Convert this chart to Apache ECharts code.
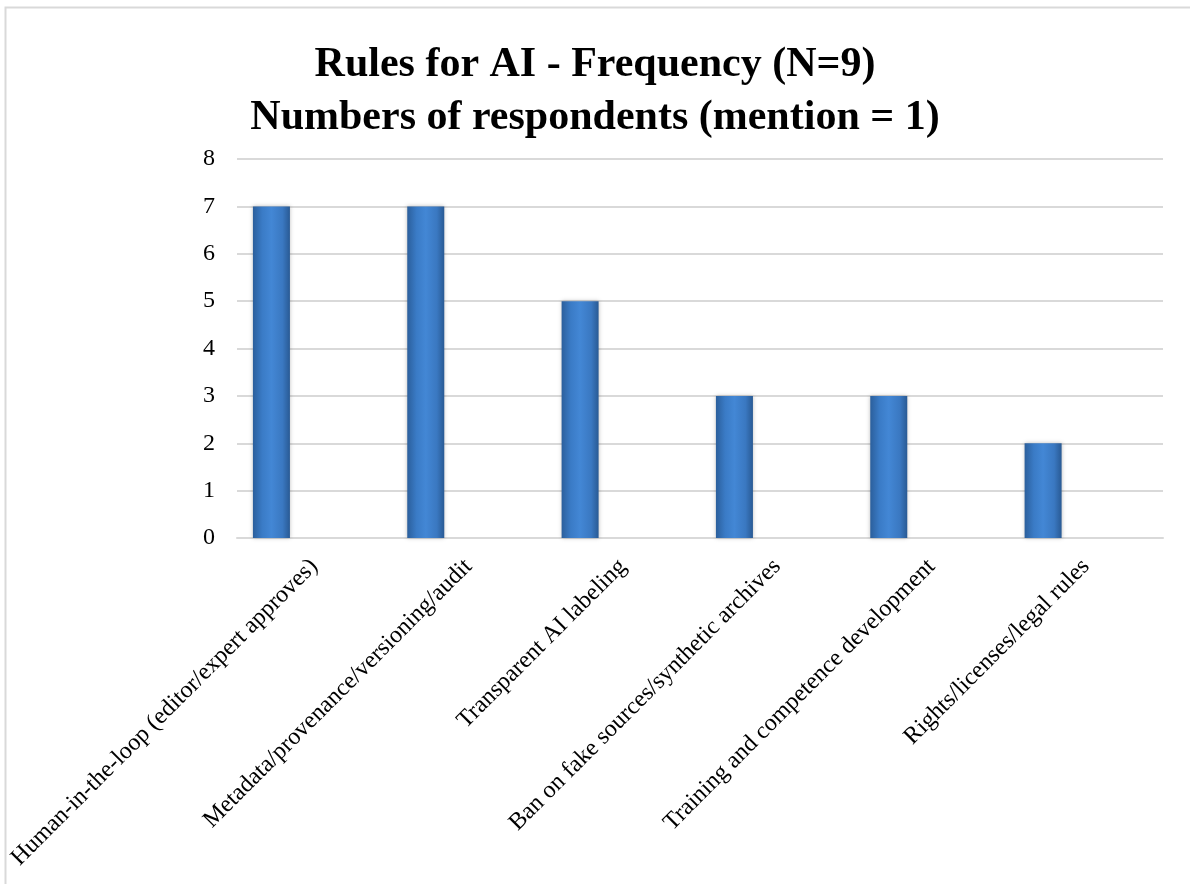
<!DOCTYPE html>
<html>
<head>
<meta charset="utf-8">
<script src="https://cdn.jsdelivr.net/npm/echarts@6/dist/echarts.min.js"></script>
<style>
html, body { margin: 0; padding: 0; background: #fff; }
#chart { width: 1190px; height: 884px; }
</style>
</head>
<body>
<div id="chart"></div>
<script>
// data
var categories = [
	'Human-in-the-loop (editor/expert approves)',
	'Metadata/provenance/versioning/audit',
	'Transparent AI labeling',
	'Ban on fake sources/synthetic archives',
	'Training and competence development',
	'Rights/licenses/legal rules'
];
var counts = [7, 7, 5, 3, 3, 2];
var emptySeries = [null, null, null, null, null, null];
var yTicks = [0, 1, 2, 3, 4, 5, 6, 7, 8];

var serif = '"Liberation Serif", "Times New Roman", serif';

var barColor = new echarts.graphic.LinearGradient(0, 0, 1, 0, [
	{ offset: 0, color: '#2b5f9c' },
	{ offset: 0.25, color: '#3a7bc6' },
	{ offset: 0.5, color: '#4387d5' },
	{ offset: 0.8, color: '#3a78c1' },
	{ offset: 1, color: '#295a94' }
]);

var myChart = echarts.init(document.getElementById('chart'));
var option = {
	backgroundColor: '#fff',
	animation: false,
	title: {
		text: 'Rules for AI - Frequency (N=9)\nNumbers of respondents (mention = 1)',
		left: 'center',
		top: 34,
		textStyle: {
			fontFamily: serif,
			fontWeight: 'bold',
			fontSize: 42,
			lineHeight: 53,
			color: '#000'
		}
	},
	graphic: [{
		type: 'rect',
		shape: { x: 5.5, y: 7.5, width: 1300, height: 1000 },
		style: { fill: 'none', stroke: '#d9d9d9', lineWidth: 2 },
		silent: true
	}],
	grid: {
		left: 237,
		right: 27,
		top: 159,
		bottom: 346
	},
	xAxis: {
		type: 'category',
		data: categories,
		axisLine: { lineStyle: { color: '#d9d9d9', width: 2 } },
		axisTick: { show: false },
		axisLabel: {
			rotate: 45,
			interval: 0,
			margin: 25,
			fontFamily: serif,
			fontSize: 24,
			color: '#000'
		}
	},
	yAxis: {
		type: 'value',
		min: yTicks[0],
		max: yTicks[yTicks.length - 1],
		interval: 1,
		axisLine: { show: false },
		axisTick: { show: false },
		splitLine: { lineStyle: { color: '#d9d9d9', width: 2 } },
		axisLabel: {
			margin: 22,
			fontFamily: serif,
			fontSize: 24,
			color: '#000'
		}
	},
	series: [{
		type: 'bar',
		data: counts,
		barWidth: 37,
		barGap: '131%',
		itemStyle: {
			color: barColor,
			shadowColor: 'rgba(0,0,0,0.25)',
			shadowBlur: 4
		}
	}, {
		type: 'bar',
		data: emptySeries,
		barWidth: 37
	}]
};
myChart.setOption(option);
</script>
</body>
</html>
